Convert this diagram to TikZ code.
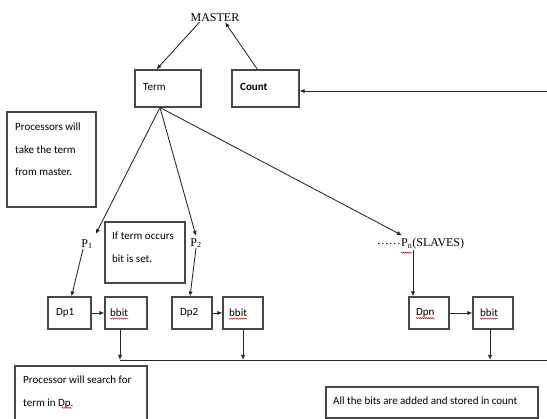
\documentclass[tikz,border=0pt]{standalone}
\usepackage{fontspec}
\setmainfont{Liberation Serif}
\newfontfamily\carl{Carlito}
\usetikzlibrary{arrows.meta,decorations.pathmorphing}
\begin{document}
\begin{tikzpicture}[x=1pt,y=-1pt,
  box/.style={draw=black!72,line width=1.1pt,inner sep=0pt},
  arr/.style={draw=black!85,line width=0.85pt,-{Latex[length=5pt,width=4.2pt]}},
  ln/.style={draw=black!85,line width=0.85pt},
  ser/.style={font=\fontsize{12}{14}\selectfont,inner sep=0pt},
  txt/.style={font=\carl\fontsize{11}{12}\selectfont,inner sep=0pt,anchor=west},
  para/.style={font=\carl\fontsize{11}{22.5}\selectfont,inner sep=0pt,anchor=north west,align=left},
  squig/.style={draw=red!75!black,line width=0.4pt,decorate,decoration={snake,amplitude=0.6pt,segment length=2pt}}]
\useasboundingbox (0,0) rectangle (547,419);

% top
\node[ser] (master) at (215,18) {MASTER};
\node[box,minimum width=66pt,minimum height=37pt] (term) at (168,88.5) {};
\node[txt] (termt) at (143,87) {Term};
\node[box,minimum width=67pt,minimum height=37pt] (count) at (265.5,88.5) {};
\node[txt] (countt) at (240,87) {\bfseries Count};
\coordinate (rin) at (547,91);

\draw[arr] ([xshift=9pt]master.south west) -- ([xshift=22pt]term.north west);
\draw[arr] ([xshift=26pt]count.north west) -- ([xshift=10pt]master.south);
\draw[arr] (rin) -- (rin -| count.east);

% note boxes
\node[box,minimum width=89pt,minimum height=95pt] (procs) at (51.5,159.5) {};
\node[para] (procst) at (15,123) {Processors will\\take the term\\from master.};
\node[box,minimum width=80pt,minimum height=61pt] (ifb) at (145,252.5) {};
\node[para] (ifbt) at (112,232) {If term occurs\\bit is set.};

% processors
\node[ser] (p1) at (87,244) {P\textsubscript{1}};
\node[ser] (p2) at (196,243) {P\textsubscript{2}};
\node[ser,anchor=west] (pn) at (401,244) {P\textsubscript{n}(SLAVES)};
\node[ser,anchor=east] (dots) at (pn.west) {\ldots\ldots};

\draw[arr] ([xshift=-8pt]term.south) -- ([xshift=3pt,yshift=5pt]p1.north east);
\draw[arr] ([xshift=-8pt]term.south) -- ([yshift=2pt]p2.north);
\draw[arr] ([xshift=-8pt]term.south) -- ([xshift=1pt,yshift=3pt]pn.north west);

% data boxes
\node[box,minimum width=43pt,minimum height=32pt] (dp1) at (69.5,313) {};
\node[txt] (dp1t) at (56,313) {Dp1};
\node[box,minimum width=42pt,minimum height=32pt] (bb1) at (126,313) {};
\node[txt] (bb1t) at (110,313) {bbit};
\node[box,minimum width=40pt,minimum height=32pt] (dp2) at (192,313) {};
\node[txt] (dp2t) at (180,313) {Dp2};
\node[box,minimum width=40pt,minimum height=32pt] (bb2) at (243,313) {};
\node[txt] (bb2t) at (229,313) {bbit};
\node[box,minimum width=40pt,minimum height=32pt] (dpn) at (429,313) {};
\node[txt] (dpnt) at (416,313) {Dpn};
\node[box,minimum width=40pt,minimum height=32pt] (bbn) at (493,313) {};
\node[txt] (bbnt) at (480,313) {bbit};

% spell-check marks
\draw[squig] ([yshift=-1.5pt]bb1t.south west) -- ([yshift=-1.5pt]bb1t.south east);
\draw[squig] ([yshift=-1.5pt]bb2t.south west) -- ([yshift=-1.5pt]bb2t.south east);
\draw[squig] ([yshift=-1.5pt]bbnt.south west) -- ([yshift=-1.5pt]bbnt.south east);
\draw[squig] ([yshift=-0.5pt]dpnt.south west) -- ([yshift=-0.5pt]dpnt.south east);
\draw[squig] ([yshift=-3pt]pn.south west) -- ([xshift=11pt,yshift=-3pt]pn.south west);

\draw[arr] ([xshift=-4pt]p1.south) -- ([xshift=2pt]dp1.north);
\draw[arr] (p2.south) -- ([xshift=-2pt]dp2.north);
\draw[arr] ([xshift=12pt]pn.south west) -- ([xshift=12pt]pn.south west |- dpn.north);

\draw[arr] (dp1.east) -- (bb1.west);
\draw[arr] (dp2.east) -- (bb2.west);
\draw[arr] (dpn.east) -- (bbn.west);

% bus
\coordinate (busR) at (547,360);
\draw[arr] ([xshift=-6pt]bb1.south) -- ([xshift=-6pt]bb1.south |- busR);
\draw[arr] (bb2.south) -- (bb2.south |- busR);
\draw[arr] ([xshift=-3pt]bbn.south) -- ([xshift=-3pt]bbn.south |- busR);
\draw[ln] ([xshift=-6pt]bb1.south |- busR) -- (busR);

% bottom boxes
\node[box,minimum width=132pt,minimum height=56pt] (search) at (81,394) {};
\node[para] (searcht) at (23,376) {Processor will search for\\term in Dp.};
\draw[squig] ([xshift=38.5pt,yshift=0.5pt]searcht.south west) -- ([xshift=49pt,yshift=0.5pt]searcht.south west);
\node[box,minimum width=212pt,minimum height=31pt] (alls) at (432,402.5) {};
\node[txt] (allst) at (333,401) {All the bits are added and stored in count};
\end{tikzpicture}
\end{document}
